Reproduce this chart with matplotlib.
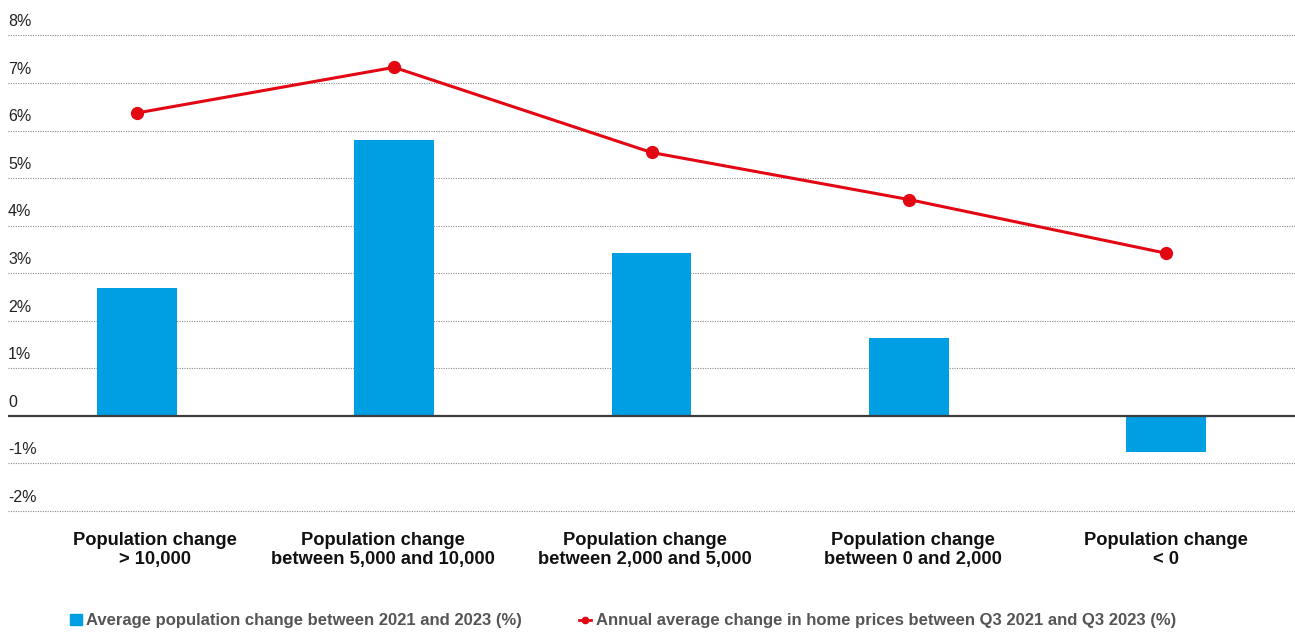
import matplotlib.pyplot as plt
from matplotlib.lines import Line2D
from matplotlib.patches import Patch
import numpy as np

categories = ["Population change\n> 10,000",
              "Population change\nbetween 5,000 and 10,000",
              "Population change\nbetween 2,000 and 5,000",
              "Population change\nbetween 0 and 2,000",
              "Population change\n< 0"]
pop_change = [2.68, 5.81, 3.42, 1.64, -0.76]
price_change = [6.37, 7.33, 5.54, 4.55, 3.42]
yticks = [-2, -1, 0, 1, 2, 3, 4, 5, 6, 7, 8]
ytick_labels = ["-2%", "-1%", "0", "1%", "2%", "3%", "4%", "5%", "6%", "7%", "8%"]
bar_label = 'Average population change between 2021 and 2023 (%)'
line_label = 'Annual average change in home prices between Q3 2021 and Q3 2023 (%)'

# the category labels in the original are not exactly centred under the bars
label_shift = [0.07, -0.043, -0.027, 0.016, 0.0]

BLUE = '#009FE3'
RED = '#E30613'

plt.rcParams['font.family'] = ['Liberation Sans', 'DejaVu Sans']

fig = plt.figure(figsize=(12.95, 6.33), dpi=100)
ax = fig.add_axes([8 / 1295, (633 - 511) / 633, 1 - 8 / 1295, (511 - 35.5) / 633])

x = np.arange(len(categories))
ax.bar(x, pop_change, width=0.31, color=BLUE, zorder=2)
ax.plot(x, price_change, color=RED, lw=2.2, marker='o', ms=8.5, zorder=3)

ax.set_xlim(-0.5, 4.5)
ax.set_ylim(-2, 8)
ax.set_xticks([])
ax.set_yticks([])
for i, y in enumerate(yticks):
    if y == 0:
        ax.axhline(0, color='#3c3c3c', lw=1.6, zorder=4)
    else:
        ax.axhline(y, color='#8a8a8a', lw=0.8, ls=(0, (1, 1.2)), zorder=1, clip_on=False)
    ax.annotate(ytick_labels[i], xy=(0, y), xycoords=('axes fraction', 'data'),
                xytext=(0, 4.5), textcoords='offset points', ha='left', va='bottom',
                fontsize=11.5, color='#222222')

for i, cat in enumerate(categories):
    ax.annotate(cat, xy=(x[i] + label_shift[i], -2), xycoords='data',
                xytext=(0, -15), textcoords='offset points', ha='center', va='top',
                fontsize=13.2, fontweight='bold', color='#111111', linespacing=1.2,
                annotation_clip=False)

for s in ax.spines.values():
    s.set_visible(False)

handles = [Patch(color=BLUE, label=bar_label),
           Line2D([], [], color=RED, lw=2, marker='o', ms=4.5, label=line_label)]
fig.legend(handles=handles, loc='center left', bbox_to_anchor=(63 / 1295, 1 - 621 / 633),
           ncol=2, frameon=False, prop={'weight': 'bold', 'size': 12},
           labelcolor='#555555', handlelength=0.75, handleheight=0.65, handletextpad=0.25,
           columnspacing=3.4, borderaxespad=0.0)

fig.savefig('out.png', dpi=100)
